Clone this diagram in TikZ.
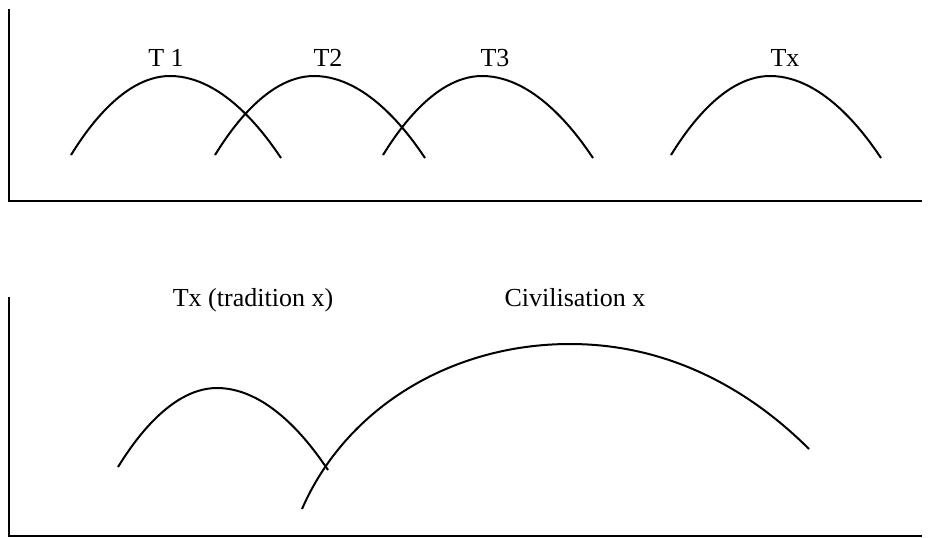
\documentclass[tikz,border=0pt]{standalone}
\usepackage{fontspec}
\setmainfont{Liberation Serif}
\usetikzlibrary{positioning}

\begin{document}
\begin{tikzpicture}[x=0.5pt,y=-0.5pt,
  axis/.style={line width=1.2pt},
  curve/.style={line width=1pt},
  lab/.style={font=\fontsize{13}{15}\selectfont,inner sep=0pt}]
  \useasboundingbox (0,0) rectangle (937,537);
  % Top: several traditions side by side
  \coordinate (otop) at (9,201);
  \draw[axis] (9,9) -- (otop) -- (922,201);
  \draw[curve] (71,155) parabola bend (170,76) (281,158);
  \draw[curve] (215,155) parabola bend (314,76) (425,158);
  \draw[curve] (383,155) parabola bend (482,76) (593,158);
  \draw[curve] (671,155) parabola bend (770,76) (881,158);
  \node[lab] (t1) at (166,58) {T 1};
  \node[lab] (t2) at (328,58) {T2};
  \node[lab] (t3) at (495,58) {T3};
  \node[lab] (tx) at (785,58) {Tx};
  % Bottom: one tradition against a civilisation
  \coordinate (obot) at (9,536);
  \draw[axis] (9,297) -- (obot) -- (922,536);
  \draw[curve] (118,467) parabola bend (217,388) (328,470);
  \draw[curve] (302,509) .. controls (346,408) and (451,344) .. (570,344)
    .. controls (680,344) and (760,400) .. (809,449);
  \node[lab] (txlab) at (253,300) {Tx (tradition x)};
  \node[lab] (civlab) at (575,298) {Civilisation x};
\end{tikzpicture}
\end{document}
